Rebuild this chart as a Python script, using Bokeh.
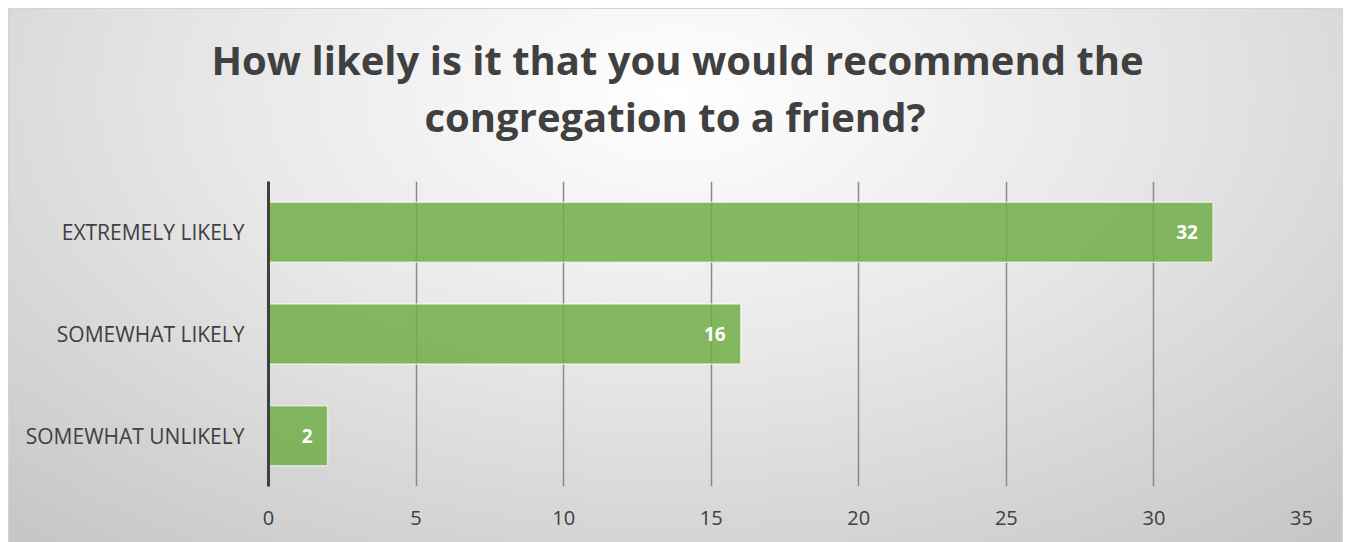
from bokeh.plotting import figure
from bokeh.models import FactorRange, Range1d, ColumnDataSource, FixedTicker, LabelSet, Title
from bokeh.core.properties import value
from bokeh.embed import file_html
from bokeh.resources import INLINE

categories = ["EXTREMELY LIKELY", "SOMEWHAT LIKELY", "SOMEWHAT UNLIKELY"]
counts = [32, 16, 2]
x_ticks = [0, 5, 10, 15, 20, 25, 30, 35]
title_lines = ["How likely is it that you would recommend the", "congregation to a friend?"]

FONT = "Open Sans"
TXT = "#404040"

src = ColumnDataSource(dict(cat=categories, val=counts, lab=[str(v) for v in counts]))

p = figure(width=1335, height=534, output_backend="svg", toolbar_location=None,
           y_range=FactorRange(factors=categories[::-1], range_padding=0),
           x_range=Range1d(0, 35))
p.margin = (8, 4, 0, 8)
p.title = None
p.background_fill_color = None
p.border_fill_color = None
p.outline_line_color = None
p.styles = {"background": "radial-gradient(ellipse 75% 110% at 50% 16%, #ffffff 0%, #e8e8e8 45%, #c6c6c6 100%)",
            "border-top": "1px solid #d4d4d4", "border-left": "1px solid #d4d4d4",
            "border-right": "1px solid #d4d4d4"}

p.min_border_left = 259
p.min_border_right = 43
p.min_border_bottom = 57
p.min_border_top = 172

# spacer between title block and plot frame
p.add_layout(Title(text=" ", text_font_size="10px", standoff=25), "above")
p.add_layout(Title(text=title_lines[1], align="left", offset=156, standoff=0, text_font=FONT,
                   text_font_size="40px", text_font_style="bold", text_color=TXT), "above")
p.add_layout(Title(text=title_lines[0], align="left", offset=-57, standoff=0, text_font=FONT,
                   text_font_size="40px", text_font_style="bold", text_color=TXT), "above")

p.hbar(y="cat", right="val", left=0, height=0.59, source=src,
       fill_color="#70ad47", fill_alpha=0.85, line_color="#ffffff", line_alpha=0.6, line_width=1.5)

labels = LabelSet(x="val", y="cat", text="lab", source=src, text_align="right", text_baseline="middle",
                  x_offset=-15, text_color="white", text_font=value(FONT), text_font_style="bold",
                  text_font_size="19px")
p.add_layout(labels)

# axes
p.xaxis.ticker = FixedTicker(ticks=x_ticks)
p.xaxis.axis_line_color = None
p.xaxis.major_tick_line_color = None
p.xaxis.minor_tick_line_color = None
p.xaxis.major_label_text_font = FONT
p.xaxis.major_label_text_font_size = "20px"
p.xaxis.major_label_text_color = TXT
p.xaxis.major_label_standoff = 18

p.yaxis.axis_line_color = "#404040"
p.yaxis.axis_line_width = 3
p.yaxis.major_tick_line_color = None
p.yaxis.minor_tick_line_color = None
p.yaxis.major_label_text_font = FONT
p.yaxis.major_label_text_font_size = "21px"
p.yaxis.major_label_text_color = TXT
p.yaxis.major_label_standoff = 18

p.ygrid.grid_line_color = None
p.xgrid.ticker = FixedTicker(ticks=x_ticks)
p.xgrid.grid_line_color = "#8a8a8a"
p.xgrid.grid_line_width = 1.5

open("out.html", "w").write(file_html(p, INLINE))
